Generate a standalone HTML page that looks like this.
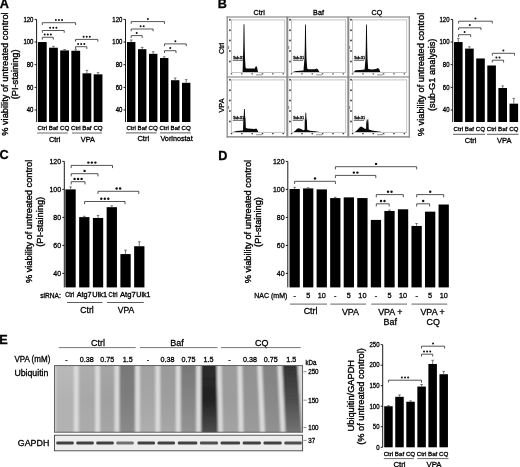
<!DOCTYPE html>
<html><head><meta charset="utf-8"><style>
html,body{margin:0;padding:0;background:#fff;}
svg{display:block;will-change:transform;}
text{font-family:"Liberation Sans", sans-serif;stroke:#000;stroke-width:0.3px;}
.hv{stroke:#000;stroke-width:0.36px;}
</style></head><body>
<svg width="520" height="467" viewBox="0 0 520 467">
<defs><linearGradient id="lg0" x1="0" y1="0" x2="0" y2="1"><stop offset="0" stop-color="#bababa"/><stop offset="0.5" stop-color="#b2b2b2"/><stop offset="1" stop-color="#b2b2b2"/></linearGradient>
<linearGradient id="lg1" x1="0" y1="0" x2="0" y2="1"><stop offset="0" stop-color="#aeaeae"/><stop offset="0.5" stop-color="#a8a8a8"/><stop offset="1" stop-color="#acacac"/></linearGradient>
<linearGradient id="lg2" x1="0" y1="0" x2="0" y2="1"><stop offset="0" stop-color="#a6a6a6"/><stop offset="0.5" stop-color="#a0a0a0"/><stop offset="1" stop-color="#a6a6a6"/></linearGradient>
<linearGradient id="lg3" x1="0" y1="0" x2="0" y2="1"><stop offset="0" stop-color="#787878"/><stop offset="0.5" stop-color="#7e7e7e"/><stop offset="1" stop-color="#8a8a8a"/></linearGradient>
<linearGradient id="lg4" x1="0" y1="0" x2="0" y2="1"><stop offset="0" stop-color="#a2a2a2"/><stop offset="0.5" stop-color="#a6a6a6"/><stop offset="1" stop-color="#aeaeae"/></linearGradient>
<linearGradient id="lg5" x1="0" y1="0" x2="0" y2="1"><stop offset="0" stop-color="#9a9a9a"/><stop offset="0.5" stop-color="#9e9e9e"/><stop offset="1" stop-color="#a8a8a8"/></linearGradient>
<linearGradient id="lg6" x1="0" y1="0" x2="0" y2="1"><stop offset="0" stop-color="#767676"/><stop offset="0.5" stop-color="#858585"/><stop offset="1" stop-color="#959595"/></linearGradient>
<linearGradient id="lg7" x1="0" y1="0" x2="0" y2="1"><stop offset="0" stop-color="#2e2e2e"/><stop offset="0.5" stop-color="#202020"/><stop offset="1" stop-color="#505050"/></linearGradient>
<linearGradient id="lg8" x1="0" y1="0" x2="0" y2="1"><stop offset="0" stop-color="#9c9c9c"/><stop offset="0.5" stop-color="#9c9c9c"/><stop offset="1" stop-color="#a4a4a4"/></linearGradient>
<linearGradient id="lg9" x1="0" y1="0" x2="0" y2="1"><stop offset="0" stop-color="#929292"/><stop offset="0.5" stop-color="#949494"/><stop offset="1" stop-color="#9c9c9c"/></linearGradient>
<linearGradient id="lg10" x1="0" y1="0" x2="0" y2="1"><stop offset="0" stop-color="#828282"/><stop offset="0.5" stop-color="#888888"/><stop offset="1" stop-color="#929292"/></linearGradient>
<linearGradient id="lg11" x1="0" y1="0" x2="0" y2="1"><stop offset="0" stop-color="#303030"/><stop offset="0.5" stop-color="#4c4c4c"/><stop offset="1" stop-color="#767676"/></linearGradient>
<clipPath id="blotclip"><rect x="54.50" y="365.60" width="248.10" height="66.60"/></clipPath>
<filter id="bl" x="-5%" y="-5%" width="110%" height="110%"><feGaussianBlur stdDeviation="0.9"/></filter></defs>
<rect width="520" height="467" fill="#fff"/>
<text x="4.30" y="8.45" font-size="12.70" text-anchor="middle" font-weight="bold" fill="#000" transform="translate(4.30 8.45) scale(1.000 1) translate(-4.30 -8.45)">A</text>
<text transform="translate(7.50 74.10) rotate(-90)" x="0" y="0" font-size="9.25" text-anchor="middle" class="hv">% viability of untreated control</text>
<text transform="translate(18.20 74.40) rotate(-90)" x="0" y="0" font-size="9.25" text-anchor="middle" class="hv">(PI-staining)</text>
<line x1="36.60" y1="19.40" x2="36.60" y2="122.00" stroke="#000" stroke-width="0.90"/>
<line x1="34.60" y1="110.00" x2="36.60" y2="110.00" stroke="#000" stroke-width="0.90"/>
<text x="33.40" y="112.29" font-size="6.38" text-anchor="end" font-weight="normal" fill="#000" transform="translate(33.40 112.29) scale(0.940 1) translate(-33.40 -112.29)">40</text>
<line x1="34.60" y1="87.35" x2="36.60" y2="87.35" stroke="#000" stroke-width="0.90"/>
<text x="33.40" y="89.64" font-size="6.38" text-anchor="end" font-weight="normal" fill="#000" transform="translate(33.40 89.64) scale(0.940 1) translate(-33.40 -89.64)">60</text>
<line x1="34.60" y1="64.70" x2="36.60" y2="64.70" stroke="#000" stroke-width="0.90"/>
<text x="33.40" y="66.99" font-size="6.38" text-anchor="end" font-weight="normal" fill="#000" transform="translate(33.40 66.99) scale(0.940 1) translate(-33.40 -66.99)">80</text>
<line x1="34.60" y1="42.05" x2="36.60" y2="42.05" stroke="#000" stroke-width="0.90"/>
<text x="33.40" y="44.34" font-size="6.38" text-anchor="end" font-weight="normal" fill="#000" transform="translate(33.40 44.34) scale(0.940 1) translate(-33.40 -44.34)">100</text>
<line x1="34.60" y1="19.40" x2="36.60" y2="19.40" stroke="#000" stroke-width="0.90"/>
<text x="33.40" y="21.69" font-size="6.38" text-anchor="end" font-weight="normal" fill="#000" transform="translate(33.40 21.69) scale(0.940 1) translate(-33.40 -21.69)">120</text>
<rect x="37.90" y="42.05" width="8.80" height="79.95" fill="#000"/>
<rect x="49.05" y="47.71" width="8.80" height="74.29" fill="#000"/>
<line x1="53.45" y1="46.35" x2="53.45" y2="47.71" stroke="#444" stroke-width="0.70"/>
<line x1="52.15" y1="46.35" x2="54.75" y2="46.35" stroke="#444" stroke-width="0.70"/>
<rect x="60.20" y="50.43" width="8.80" height="71.57" fill="#000"/>
<line x1="64.60" y1="49.52" x2="64.60" y2="50.43" stroke="#444" stroke-width="0.70"/>
<line x1="63.30" y1="49.52" x2="65.90" y2="49.52" stroke="#444" stroke-width="0.70"/>
<rect x="71.35" y="50.77" width="8.80" height="71.23" fill="#000"/>
<line x1="75.75" y1="49.75" x2="75.75" y2="50.77" stroke="#444" stroke-width="0.70"/>
<line x1="74.45" y1="49.75" x2="77.05" y2="49.75" stroke="#444" stroke-width="0.70"/>
<rect x="82.50" y="73.31" width="8.80" height="48.70" fill="#000"/>
<line x1="86.90" y1="70.36" x2="86.90" y2="73.31" stroke="#444" stroke-width="0.70"/>
<line x1="85.60" y1="70.36" x2="88.20" y2="70.36" stroke="#444" stroke-width="0.70"/>
<rect x="93.65" y="74.33" width="8.80" height="47.68" fill="#000"/>
<line x1="98.05" y1="72.63" x2="98.05" y2="74.33" stroke="#444" stroke-width="0.70"/>
<line x1="96.75" y1="72.63" x2="99.35" y2="72.63" stroke="#444" stroke-width="0.70"/>
<text x="42.30" y="130.42" font-size="6.20" text-anchor="middle" font-weight="normal" fill="#000" transform="translate(42.30 130.42) scale(1.000 1) translate(-42.30 -130.42)">Ctrl</text>
<text x="53.45" y="130.42" font-size="6.20" text-anchor="middle" font-weight="normal" fill="#000" transform="translate(53.45 130.42) scale(1.000 1) translate(-53.45 -130.42)">Baf</text>
<text x="64.60" y="130.42" font-size="6.20" text-anchor="middle" font-weight="normal" fill="#000" transform="translate(64.60 130.42) scale(1.000 1) translate(-64.60 -130.42)">CQ</text>
<text x="75.75" y="130.42" font-size="6.20" text-anchor="middle" font-weight="normal" fill="#000" transform="translate(75.75 130.42) scale(1.000 1) translate(-75.75 -130.42)">Ctrl</text>
<text x="86.90" y="130.42" font-size="6.20" text-anchor="middle" font-weight="normal" fill="#000" transform="translate(86.90 130.42) scale(1.000 1) translate(-86.90 -130.42)">Baf</text>
<text x="98.05" y="130.42" font-size="6.20" text-anchor="middle" font-weight="normal" fill="#000" transform="translate(98.05 130.42) scale(1.000 1) translate(-98.05 -130.42)">CQ</text>
<line x1="37.20" y1="133.00" x2="67.80" y2="133.00" stroke="#444" stroke-width="0.80"/>
<line x1="72.00" y1="133.00" x2="102.00" y2="133.00" stroke="#444" stroke-width="0.80"/>
<text x="54.60" y="141.51" font-size="7.30" text-anchor="middle" font-weight="normal" fill="#000" transform="translate(54.60 141.51) scale(1.000 1) translate(-54.60 -141.51)">Ctrl</text>
<text x="87.90" y="141.51" font-size="7.30" text-anchor="middle" font-weight="normal" fill="#000" transform="translate(87.90 141.51) scale(1.000 1) translate(-87.90 -141.51)">VPA</text>
<path d="M42.30 39.60 V37.30 H53.30 V39.60" fill="none" stroke="#2a2a2a" stroke-width="0.80"/>
<circle cx="44.70" cy="34.60" r="1.00" fill="#111"/>
<circle cx="47.80" cy="34.60" r="1.00" fill="#111"/>
<circle cx="50.90" cy="34.60" r="1.00" fill="#111"/>
<path d="M42.30 32.80 V30.50 H64.20 V32.80" fill="none" stroke="#2a2a2a" stroke-width="0.80"/>
<circle cx="50.15" cy="27.80" r="1.00" fill="#111"/>
<circle cx="53.25" cy="27.80" r="1.00" fill="#111"/>
<circle cx="56.35" cy="27.80" r="1.00" fill="#111"/>
<path d="M42.30 25.00 V22.70 H75.60 V25.00" fill="none" stroke="#2a2a2a" stroke-width="0.80"/>
<circle cx="55.85" cy="20.00" r="1.00" fill="#111"/>
<circle cx="58.95" cy="20.00" r="1.00" fill="#111"/>
<circle cx="62.05" cy="20.00" r="1.00" fill="#111"/>
<path d="M75.60 49.00 V46.70 H86.80 V49.00" fill="none" stroke="#2a2a2a" stroke-width="0.80"/>
<circle cx="78.10" cy="44.00" r="1.00" fill="#111"/>
<circle cx="81.20" cy="44.00" r="1.00" fill="#111"/>
<circle cx="84.30" cy="44.00" r="1.00" fill="#111"/>
<path d="M75.60 41.70 V39.40 H97.80 V41.70" fill="none" stroke="#2a2a2a" stroke-width="0.80"/>
<circle cx="83.60" cy="36.70" r="1.00" fill="#111"/>
<circle cx="86.70" cy="36.70" r="1.00" fill="#111"/>
<circle cx="89.80" cy="36.70" r="1.00" fill="#111"/>
<line x1="125.50" y1="19.40" x2="125.50" y2="122.00" stroke="#000" stroke-width="0.90"/>
<line x1="123.50" y1="110.00" x2="125.50" y2="110.00" stroke="#000" stroke-width="0.90"/>
<text x="122.30" y="112.29" font-size="6.38" text-anchor="end" font-weight="normal" fill="#000" transform="translate(122.30 112.29) scale(0.940 1) translate(-122.30 -112.29)">40</text>
<line x1="123.50" y1="87.35" x2="125.50" y2="87.35" stroke="#000" stroke-width="0.90"/>
<text x="122.30" y="89.64" font-size="6.38" text-anchor="end" font-weight="normal" fill="#000" transform="translate(122.30 89.64) scale(0.940 1) translate(-122.30 -89.64)">60</text>
<line x1="123.50" y1="64.70" x2="125.50" y2="64.70" stroke="#000" stroke-width="0.90"/>
<text x="122.30" y="66.99" font-size="6.38" text-anchor="end" font-weight="normal" fill="#000" transform="translate(122.30 66.99) scale(0.940 1) translate(-122.30 -66.99)">80</text>
<line x1="123.50" y1="42.05" x2="125.50" y2="42.05" stroke="#000" stroke-width="0.90"/>
<text x="122.30" y="44.34" font-size="6.38" text-anchor="end" font-weight="normal" fill="#000" transform="translate(122.30 44.34) scale(0.940 1) translate(-122.30 -44.34)">100</text>
<line x1="123.50" y1="19.40" x2="125.50" y2="19.40" stroke="#000" stroke-width="0.90"/>
<text x="122.30" y="21.69" font-size="6.38" text-anchor="end" font-weight="normal" fill="#000" transform="translate(122.30 21.69) scale(0.940 1) translate(-122.30 -21.69)">120</text>
<rect x="127.00" y="42.05" width="8.40" height="79.95" fill="#000"/>
<line x1="131.20" y1="40.01" x2="131.20" y2="42.05" stroke="#444" stroke-width="0.70"/>
<line x1="129.90" y1="40.01" x2="132.50" y2="40.01" stroke="#444" stroke-width="0.70"/>
<rect x="138.00" y="49.18" width="8.40" height="72.82" fill="#000"/>
<line x1="142.20" y1="47.37" x2="142.20" y2="49.18" stroke="#444" stroke-width="0.70"/>
<line x1="140.90" y1="47.37" x2="143.50" y2="47.37" stroke="#444" stroke-width="0.70"/>
<rect x="149.00" y="53.83" width="8.40" height="68.18" fill="#000"/>
<line x1="153.20" y1="51.79" x2="153.20" y2="53.83" stroke="#444" stroke-width="0.70"/>
<line x1="151.90" y1="51.79" x2="154.50" y2="51.79" stroke="#444" stroke-width="0.70"/>
<rect x="160.00" y="58.02" width="8.40" height="63.99" fill="#000"/>
<line x1="164.20" y1="56.77" x2="164.20" y2="58.02" stroke="#444" stroke-width="0.70"/>
<line x1="162.90" y1="56.77" x2="165.50" y2="56.77" stroke="#444" stroke-width="0.70"/>
<rect x="171.00" y="80.22" width="8.40" height="41.79" fill="#000"/>
<line x1="175.20" y1="78.06" x2="175.20" y2="80.22" stroke="#444" stroke-width="0.70"/>
<line x1="173.90" y1="78.06" x2="176.50" y2="78.06" stroke="#444" stroke-width="0.70"/>
<rect x="182.00" y="82.82" width="8.40" height="39.18" fill="#000"/>
<line x1="186.20" y1="79.65" x2="186.20" y2="82.82" stroke="#444" stroke-width="0.70"/>
<line x1="184.90" y1="79.65" x2="187.50" y2="79.65" stroke="#444" stroke-width="0.70"/>
<text x="131.20" y="130.22" font-size="6.20" text-anchor="middle" font-weight="normal" fill="#000" transform="translate(131.20 130.22) scale(1.000 1) translate(-131.20 -130.22)">Ctrl</text>
<text x="142.20" y="130.22" font-size="6.20" text-anchor="middle" font-weight="normal" fill="#000" transform="translate(142.20 130.22) scale(1.000 1) translate(-142.20 -130.22)">Baf</text>
<text x="153.20" y="130.22" font-size="6.20" text-anchor="middle" font-weight="normal" fill="#000" transform="translate(153.20 130.22) scale(1.000 1) translate(-153.20 -130.22)">CQ</text>
<text x="164.20" y="130.22" font-size="6.20" text-anchor="middle" font-weight="normal" fill="#000" transform="translate(164.20 130.22) scale(1.000 1) translate(-164.20 -130.22)">Ctrl</text>
<text x="175.20" y="130.22" font-size="6.20" text-anchor="middle" font-weight="normal" fill="#000" transform="translate(175.20 130.22) scale(1.000 1) translate(-175.20 -130.22)">Baf</text>
<text x="186.20" y="130.22" font-size="6.20" text-anchor="middle" font-weight="normal" fill="#000" transform="translate(186.20 130.22) scale(1.000 1) translate(-186.20 -130.22)">CQ</text>
<line x1="126.00" y1="132.90" x2="156.60" y2="132.90" stroke="#333" stroke-width="0.80"/>
<line x1="160.00" y1="132.90" x2="190.80" y2="132.90" stroke="#333" stroke-width="0.80"/>
<text x="143.30" y="141.22" font-size="7.60" text-anchor="middle" font-weight="normal" fill="#000" transform="translate(143.30 141.22) scale(1.000 1) translate(-143.30 -141.22)">Ctrl</text>
<text x="160.44" y="141.22" font-size="7.60" font-weight="normal" textLength="32.21" lengthAdjust="spacingAndGlyphs">Vorinostat</text>
<path d="M131.20 37.90 V35.60 H142.20 V37.90" fill="none" stroke="#2a2a2a" stroke-width="0.80"/>
<circle cx="136.70" cy="32.90" r="1.00" fill="#111"/>
<path d="M131.20 31.30 V29.00 H153.10 V31.30" fill="none" stroke="#2a2a2a" stroke-width="0.80"/>
<circle cx="140.60" cy="26.30" r="1.00" fill="#111"/>
<circle cx="143.70" cy="26.30" r="1.00" fill="#111"/>
<path d="M131.20 23.90 V21.60 H164.50 V23.90" fill="none" stroke="#2a2a2a" stroke-width="0.80"/>
<circle cx="147.85" cy="18.90" r="1.00" fill="#111"/>
<path d="M164.50 53.00 V50.70 H176.00 V53.00" fill="none" stroke="#2a2a2a" stroke-width="0.80"/>
<circle cx="170.25" cy="48.00" r="1.00" fill="#111"/>
<path d="M164.50 46.20 V43.90 H186.30 V46.20" fill="none" stroke="#2a2a2a" stroke-width="0.80"/>
<circle cx="175.40" cy="41.20" r="1.00" fill="#111"/>
<text x="222.30" y="8.45" font-size="12.70" text-anchor="middle" font-weight="bold" fill="#000" transform="translate(222.30 8.45) scale(1.000 1) translate(-222.30 -8.45)">B</text>
<text x="259.20" y="14.74" font-size="7.66" text-anchor="middle" font-weight="normal" fill="#000" transform="translate(259.20 14.74) scale(0.940 1) translate(-259.20 -14.74)">Ctrl</text>
<text x="318.50" y="14.74" font-size="7.66" text-anchor="middle" font-weight="normal" fill="#000" transform="translate(318.50 14.74) scale(0.940 1) translate(-318.50 -14.74)">Baf</text>
<text x="377.00" y="14.74" font-size="7.66" text-anchor="middle" font-weight="normal" fill="#000" transform="translate(377.00 14.74) scale(0.940 1) translate(-377.00 -14.74)">CQ</text>
<text transform="translate(224.38 48.40) rotate(-90)" x="0" y="0" font-size="7.20" text-anchor="middle" font-weight="normal" fill="#000">Ctrl</text>
<text transform="translate(224.38 105.50) rotate(-90)" x="0" y="0" font-size="7.20" text-anchor="middle" font-weight="normal" fill="#000">VPA</text>
<line x1="226.60" y1="17.00" x2="409.90" y2="17.00" stroke="#777" stroke-width="1.10"/>
<line x1="226.60" y1="77.00" x2="409.90" y2="77.00" stroke="#777" stroke-width="1.10"/>
<line x1="226.60" y1="136.90" x2="409.90" y2="136.90" stroke="#777" stroke-width="1.10"/>
<line x1="227.20" y1="16.50" x2="227.20" y2="137.40" stroke="#8c8c8c" stroke-width="1.30"/>
<line x1="287.30" y1="16.50" x2="287.30" y2="137.40" stroke="#8c8c8c" stroke-width="2.00"/>
<line x1="348.30" y1="16.50" x2="348.30" y2="137.40" stroke="#8c8c8c" stroke-width="2.00"/>
<line x1="409.30" y1="16.50" x2="409.30" y2="137.40" stroke="#8c8c8c" stroke-width="1.30"/>
<rect x="231.40" y="19.90" width="53.30" height="52.60" fill="none" stroke="#bdbdbd" stroke-width="0.9"/>
<ellipse cx="229.90" cy="19.80" rx="0.8" ry="1.0" fill="#222"/>
<ellipse cx="229.90" cy="30.20" rx="0.8" ry="1.0" fill="#222"/>
<ellipse cx="229.90" cy="40.60" rx="0.8" ry="1.0" fill="#222"/>
<ellipse cx="229.90" cy="51.00" rx="0.8" ry="1.0" fill="#222"/>
<ellipse cx="229.90" cy="61.40" rx="0.8" ry="1.0" fill="#222"/>
<ellipse cx="231.50" cy="73.80" rx="0.9" ry="0.6" fill="#333"/>
<ellipse cx="241.85" cy="73.80" rx="0.9" ry="0.6" fill="#333"/>
<ellipse cx="252.20" cy="73.80" rx="0.9" ry="0.6" fill="#333"/>
<ellipse cx="262.55" cy="73.80" rx="0.9" ry="0.6" fill="#333"/>
<ellipse cx="272.90" cy="73.80" rx="0.9" ry="0.6" fill="#333"/>
<ellipse cx="283.25" cy="73.80" rx="0.9" ry="0.6" fill="#333"/>
<rect x="256.00" y="74.40" width="6.00" height="0.90" fill="#888"/>
<rect x="228.10" y="46.00" width="1.00" height="3.00" fill="#888"/>
<path d="M232.00 72.10 L242.60 71.90 L243.00 57.80 L243.30 46.00 L243.60 24.20 L244.40 24.20 L244.70 46.00 L245.00 57.80 L245.60 67.60 L246.40 68.60 L254.80 68.60 L255.60 66.40 L256.60 66.20 L257.20 68.00 L258.00 72.10 Z" fill="#0a0a0a"/>
<line x1="232.70" y1="60.30" x2="243.00" y2="60.30" stroke="#333" stroke-width="0.80"/>
<text x="233.20" y="58.60" font-size="3.1" fill="#333" stroke="none">Sub-G1</text>
<rect x="291.50" y="19.90" width="54.20" height="52.60" fill="none" stroke="#bdbdbd" stroke-width="0.9"/>
<ellipse cx="290.00" cy="19.80" rx="0.8" ry="1.0" fill="#222"/>
<ellipse cx="290.00" cy="30.20" rx="0.8" ry="1.0" fill="#222"/>
<ellipse cx="290.00" cy="40.60" rx="0.8" ry="1.0" fill="#222"/>
<ellipse cx="290.00" cy="51.00" rx="0.8" ry="1.0" fill="#222"/>
<ellipse cx="290.00" cy="61.40" rx="0.8" ry="1.0" fill="#222"/>
<ellipse cx="291.60" cy="73.80" rx="0.9" ry="0.6" fill="#333"/>
<ellipse cx="301.95" cy="73.80" rx="0.9" ry="0.6" fill="#333"/>
<ellipse cx="312.30" cy="73.80" rx="0.9" ry="0.6" fill="#333"/>
<ellipse cx="322.65" cy="73.80" rx="0.9" ry="0.6" fill="#333"/>
<ellipse cx="333.00" cy="73.80" rx="0.9" ry="0.6" fill="#333"/>
<ellipse cx="343.35" cy="73.80" rx="0.9" ry="0.6" fill="#333"/>
<rect x="316.10" y="74.40" width="6.00" height="0.90" fill="#888"/>
<rect x="288.20" y="46.00" width="1.00" height="3.00" fill="#888"/>
<path d="M292.80 72.10 L296.00 70.90 L303.50 70.60 L304.50 58.00 L304.80 46.30 L305.10 24.60 L305.90 24.60 L306.20 46.30 L306.50 58.00 L307.20 68.40 L308.50 69.20 L315.00 69.30 L316.50 68.60 L317.80 69.20 L319.40 72.10 Z" fill="#0a0a0a"/>
<line x1="292.80" y1="60.30" x2="303.10" y2="60.30" stroke="#333" stroke-width="0.80"/>
<text x="293.30" y="58.60" font-size="3.1" fill="#333" stroke="none">Sub-G1</text>
<rect x="352.50" y="19.90" width="54.20" height="52.60" fill="none" stroke="#bdbdbd" stroke-width="0.9"/>
<ellipse cx="351.00" cy="19.80" rx="0.8" ry="1.0" fill="#222"/>
<ellipse cx="351.00" cy="30.20" rx="0.8" ry="1.0" fill="#222"/>
<ellipse cx="351.00" cy="40.60" rx="0.8" ry="1.0" fill="#222"/>
<ellipse cx="351.00" cy="51.00" rx="0.8" ry="1.0" fill="#222"/>
<ellipse cx="351.00" cy="61.40" rx="0.8" ry="1.0" fill="#222"/>
<ellipse cx="352.60" cy="73.80" rx="0.9" ry="0.6" fill="#333"/>
<ellipse cx="362.95" cy="73.80" rx="0.9" ry="0.6" fill="#333"/>
<ellipse cx="373.30" cy="73.80" rx="0.9" ry="0.6" fill="#333"/>
<ellipse cx="383.65" cy="73.80" rx="0.9" ry="0.6" fill="#333"/>
<ellipse cx="394.00" cy="73.80" rx="0.9" ry="0.6" fill="#333"/>
<ellipse cx="404.35" cy="73.80" rx="0.9" ry="0.6" fill="#333"/>
<rect x="377.10" y="74.40" width="6.00" height="0.90" fill="#888"/>
<rect x="349.20" y="46.00" width="1.00" height="3.00" fill="#888"/>
<path d="M353.80 72.10 L355.50 70.20 L360.00 69.90 L364.60 69.50 L365.50 58.40 L365.80 46.50 L366.10 24.60 L366.90 24.60 L367.20 46.50 L367.50 58.40 L368.20 69.00 L372.00 69.40 L376.00 69.00 L377.80 68.00 L379.00 68.80 L380.40 72.10 Z" fill="#0a0a0a"/>
<line x1="353.80" y1="60.30" x2="364.10" y2="60.30" stroke="#333" stroke-width="0.80"/>
<text x="354.30" y="58.60" font-size="3.1" fill="#333" stroke="none">Sub-G1</text>
<rect x="231.40" y="79.90" width="53.30" height="52.50" fill="none" stroke="#bdbdbd" stroke-width="0.9"/>
<ellipse cx="229.90" cy="79.80" rx="0.8" ry="1.0" fill="#222"/>
<ellipse cx="229.90" cy="90.20" rx="0.8" ry="1.0" fill="#222"/>
<ellipse cx="229.90" cy="100.60" rx="0.8" ry="1.0" fill="#222"/>
<ellipse cx="229.90" cy="111.00" rx="0.8" ry="1.0" fill="#222"/>
<ellipse cx="229.90" cy="121.40" rx="0.8" ry="1.0" fill="#222"/>
<ellipse cx="231.50" cy="133.70" rx="0.9" ry="0.6" fill="#333"/>
<ellipse cx="241.85" cy="133.70" rx="0.9" ry="0.6" fill="#333"/>
<ellipse cx="252.20" cy="133.70" rx="0.9" ry="0.6" fill="#333"/>
<ellipse cx="262.55" cy="133.70" rx="0.9" ry="0.6" fill="#333"/>
<ellipse cx="272.90" cy="133.70" rx="0.9" ry="0.6" fill="#333"/>
<ellipse cx="283.25" cy="133.70" rx="0.9" ry="0.6" fill="#333"/>
<rect x="256.00" y="134.30" width="6.00" height="0.90" fill="#888"/>
<rect x="228.10" y="106.00" width="1.00" height="3.00" fill="#888"/>
<path d="M233.20 132.00 L236.50 131.00 L243.00 130.60 L243.40 117.00 L243.70 118.00 L244.00 109.00 L244.80 109.00 L245.10 118.00 L245.40 117.00 L245.90 128.00 L248.00 128.60 L254.50 129.00 L256.20 128.60 L257.20 129.40 L258.30 132.00 Z" fill="#0a0a0a"/>
<line x1="232.70" y1="120.30" x2="243.00" y2="120.30" stroke="#333" stroke-width="0.80"/>
<text x="233.20" y="118.60" font-size="3.1" fill="#333" stroke="none">Sub-G1</text>
<rect x="291.50" y="79.90" width="54.20" height="52.50" fill="none" stroke="#bdbdbd" stroke-width="0.9"/>
<ellipse cx="290.00" cy="79.80" rx="0.8" ry="1.0" fill="#222"/>
<ellipse cx="290.00" cy="90.20" rx="0.8" ry="1.0" fill="#222"/>
<ellipse cx="290.00" cy="100.60" rx="0.8" ry="1.0" fill="#222"/>
<ellipse cx="290.00" cy="111.00" rx="0.8" ry="1.0" fill="#222"/>
<ellipse cx="290.00" cy="121.40" rx="0.8" ry="1.0" fill="#222"/>
<ellipse cx="291.60" cy="133.70" rx="0.9" ry="0.6" fill="#333"/>
<ellipse cx="301.95" cy="133.70" rx="0.9" ry="0.6" fill="#333"/>
<ellipse cx="312.30" cy="133.70" rx="0.9" ry="0.6" fill="#333"/>
<ellipse cx="322.65" cy="133.70" rx="0.9" ry="0.6" fill="#333"/>
<ellipse cx="333.00" cy="133.70" rx="0.9" ry="0.6" fill="#333"/>
<ellipse cx="343.35" cy="133.70" rx="0.9" ry="0.6" fill="#333"/>
<rect x="316.10" y="134.30" width="6.00" height="0.90" fill="#888"/>
<rect x="288.20" y="106.00" width="1.00" height="3.00" fill="#888"/>
<path d="M293.60 132.00 L295.50 130.60 L297.00 128.80 L298.60 128.20 L300.50 128.80 L303.50 130.20 L304.60 129.80 L304.80 118.00 L305.10 120.40 L305.40 112.80 L306.20 112.80 L306.50 120.40 L306.80 118.00 L307.20 129.80 L310.00 130.80 L315.00 131.30 L319.50 132.00 Z" fill="#0a0a0a"/>
<line x1="292.80" y1="120.30" x2="303.10" y2="120.30" stroke="#333" stroke-width="0.80"/>
<text x="293.30" y="118.60" font-size="3.1" fill="#333" stroke="none">Sub-G1</text>
<rect x="352.50" y="79.90" width="54.20" height="52.50" fill="none" stroke="#bdbdbd" stroke-width="0.9"/>
<ellipse cx="351.00" cy="79.80" rx="0.8" ry="1.0" fill="#222"/>
<ellipse cx="351.00" cy="90.20" rx="0.8" ry="1.0" fill="#222"/>
<ellipse cx="351.00" cy="100.60" rx="0.8" ry="1.0" fill="#222"/>
<ellipse cx="351.00" cy="111.00" rx="0.8" ry="1.0" fill="#222"/>
<ellipse cx="351.00" cy="121.40" rx="0.8" ry="1.0" fill="#222"/>
<ellipse cx="352.60" cy="133.70" rx="0.9" ry="0.6" fill="#333"/>
<ellipse cx="362.95" cy="133.70" rx="0.9" ry="0.6" fill="#333"/>
<ellipse cx="373.30" cy="133.70" rx="0.9" ry="0.6" fill="#333"/>
<ellipse cx="383.65" cy="133.70" rx="0.9" ry="0.6" fill="#333"/>
<ellipse cx="394.00" cy="133.70" rx="0.9" ry="0.6" fill="#333"/>
<ellipse cx="404.35" cy="133.70" rx="0.9" ry="0.6" fill="#333"/>
<rect x="377.10" y="134.30" width="6.00" height="0.90" fill="#888"/>
<rect x="349.20" y="106.00" width="1.00" height="3.00" fill="#888"/>
<path d="M355.00 132.00 L357.50 129.80 L359.50 127.40 L361.10 126.60 L363.00 127.60 L365.20 129.00 L366.10 128.60 L366.30 117.60 L366.60 123.50 L366.90 119.40 L367.70 119.40 L368.00 123.50 L368.30 117.60 L368.80 129.60 L372.00 130.60 L377.00 131.20 L382.00 132.00 Z" fill="#0a0a0a"/>
<line x1="353.80" y1="120.30" x2="364.10" y2="120.30" stroke="#333" stroke-width="0.80"/>
<text x="354.30" y="118.60" font-size="3.1" fill="#333" stroke="none">Sub-G1</text>
<text transform="translate(423.60 74.50) rotate(-90)" x="0" y="0" font-size="9.25" text-anchor="middle" class="hv">% viability of untreated control</text>
<text transform="translate(435.00 74.80) rotate(-90)" x="0" y="0" font-size="9.25" text-anchor="middle" class="hv">(sub-G1 analysis)</text>
<line x1="452.70" y1="19.40" x2="452.70" y2="122.00" stroke="#000" stroke-width="0.90"/>
<line x1="450.70" y1="110.00" x2="452.70" y2="110.00" stroke="#000" stroke-width="0.90"/>
<text x="449.50" y="112.29" font-size="6.38" text-anchor="end" font-weight="normal" fill="#000" transform="translate(449.50 112.29) scale(0.940 1) translate(-449.50 -112.29)">40</text>
<line x1="450.70" y1="87.35" x2="452.70" y2="87.35" stroke="#000" stroke-width="0.90"/>
<text x="449.50" y="89.64" font-size="6.38" text-anchor="end" font-weight="normal" fill="#000" transform="translate(449.50 89.64) scale(0.940 1) translate(-449.50 -89.64)">60</text>
<line x1="450.70" y1="64.70" x2="452.70" y2="64.70" stroke="#000" stroke-width="0.90"/>
<text x="449.50" y="66.99" font-size="6.38" text-anchor="end" font-weight="normal" fill="#000" transform="translate(449.50 66.99) scale(0.940 1) translate(-449.50 -66.99)">80</text>
<line x1="450.70" y1="42.05" x2="452.70" y2="42.05" stroke="#000" stroke-width="0.90"/>
<text x="449.50" y="44.34" font-size="6.38" text-anchor="end" font-weight="normal" fill="#000" transform="translate(449.50 44.34) scale(0.940 1) translate(-449.50 -44.34)">100</text>
<line x1="450.70" y1="19.40" x2="452.70" y2="19.40" stroke="#000" stroke-width="0.90"/>
<text x="449.50" y="21.69" font-size="6.38" text-anchor="end" font-weight="normal" fill="#000" transform="translate(449.50 21.69) scale(0.940 1) translate(-449.50 -21.69)">120</text>
<rect x="454.00" y="42.05" width="8.60" height="79.95" fill="#000"/>
<line x1="458.30" y1="38.43" x2="458.30" y2="42.05" stroke="#444" stroke-width="0.70"/>
<line x1="457.00" y1="38.43" x2="459.60" y2="38.43" stroke="#444" stroke-width="0.70"/>
<rect x="465.10" y="48.62" width="8.60" height="73.39" fill="#000"/>
<line x1="469.40" y1="46.81" x2="469.40" y2="48.62" stroke="#444" stroke-width="0.70"/>
<line x1="468.10" y1="46.81" x2="470.70" y2="46.81" stroke="#444" stroke-width="0.70"/>
<rect x="476.20" y="58.47" width="8.60" height="63.53" fill="#000"/>
<rect x="487.30" y="65.49" width="8.60" height="56.51" fill="#000"/>
<rect x="498.40" y="88.03" width="8.60" height="33.97" fill="#000"/>
<line x1="502.70" y1="85.88" x2="502.70" y2="88.03" stroke="#444" stroke-width="0.70"/>
<line x1="501.40" y1="85.88" x2="504.00" y2="85.88" stroke="#444" stroke-width="0.70"/>
<rect x="509.50" y="103.66" width="8.60" height="18.35" fill="#000"/>
<line x1="513.80" y1="98.34" x2="513.80" y2="103.66" stroke="#444" stroke-width="0.70"/>
<line x1="512.50" y1="98.34" x2="515.10" y2="98.34" stroke="#444" stroke-width="0.70"/>
<text x="458.30" y="131.12" font-size="6.20" text-anchor="middle" font-weight="normal" fill="#000" transform="translate(458.30 131.12) scale(1.000 1) translate(-458.30 -131.12)">Ctrl</text>
<text x="469.40" y="131.12" font-size="6.20" text-anchor="middle" font-weight="normal" fill="#000" transform="translate(469.40 131.12) scale(1.000 1) translate(-469.40 -131.12)">Baf</text>
<text x="480.50" y="131.12" font-size="6.20" text-anchor="middle" font-weight="normal" fill="#000" transform="translate(480.50 131.12) scale(1.000 1) translate(-480.50 -131.12)">CQ</text>
<text x="491.60" y="131.12" font-size="6.20" text-anchor="middle" font-weight="normal" fill="#000" transform="translate(491.60 131.12) scale(1.000 1) translate(-491.60 -131.12)">Ctrl</text>
<text x="502.70" y="131.12" font-size="6.20" text-anchor="middle" font-weight="normal" fill="#000" transform="translate(502.70 131.12) scale(1.000 1) translate(-502.70 -131.12)">Baf</text>
<text x="513.80" y="131.12" font-size="6.20" text-anchor="middle" font-weight="normal" fill="#000" transform="translate(513.80 131.12) scale(1.000 1) translate(-513.80 -131.12)">CQ</text>
<line x1="453.00" y1="134.30" x2="485.00" y2="134.30" stroke="#333" stroke-width="0.80"/>
<line x1="487.00" y1="134.30" x2="518.60" y2="134.30" stroke="#333" stroke-width="0.80"/>
<text x="470.60" y="142.99" font-size="7.50" text-anchor="middle" font-weight="normal" fill="#000" transform="translate(470.60 142.99) scale(1.000 1) translate(-470.60 -142.99)">Ctrl</text>
<text x="504.20" y="142.99" font-size="7.50" text-anchor="middle" font-weight="normal" fill="#000" transform="translate(504.20 142.99) scale(1.000 1) translate(-504.20 -142.99)">VPA</text>
<path d="M458.60 37.00 V34.70 H470.70 V37.00" fill="none" stroke="#2a2a2a" stroke-width="0.80"/>
<circle cx="464.65" cy="32.00" r="1.00" fill="#111"/>
<path d="M458.60 30.10 V27.80 H481.00 V30.10" fill="none" stroke="#2a2a2a" stroke-width="0.80"/>
<circle cx="469.80" cy="25.10" r="1.00" fill="#111"/>
<path d="M458.60 23.50 V21.20 H492.30 V23.50" fill="none" stroke="#2a2a2a" stroke-width="0.80"/>
<circle cx="475.45" cy="18.50" r="1.00" fill="#111"/>
<path d="M492.30 62.50 V60.20 H503.60 V62.50" fill="none" stroke="#2a2a2a" stroke-width="0.80"/>
<circle cx="496.40" cy="57.50" r="1.00" fill="#111"/>
<circle cx="499.50" cy="57.50" r="1.00" fill="#111"/>
<path d="M492.30 55.60 V53.30 H514.50 V55.60" fill="none" stroke="#2a2a2a" stroke-width="0.80"/>
<circle cx="503.40" cy="50.60" r="1.00" fill="#111"/>
<text x="4.05" y="159.35" font-size="12.70" text-anchor="middle" font-weight="bold" fill="#000" transform="translate(4.05 159.35) scale(1.000 1) translate(-4.05 -159.35)">C</text>
<text transform="translate(32.20 221.40) rotate(-90)" x="0" y="0" font-size="9.25" text-anchor="middle" class="hv">% viability of untreated control</text>
<text transform="translate(42.80 221.80) rotate(-90)" x="0" y="0" font-size="9.25" text-anchor="middle" class="hv">(PI-staining)</text>
<line x1="64.30" y1="161.40" x2="64.30" y2="287.40" stroke="#000" stroke-width="0.90"/>
<line x1="62.30" y1="273.40" x2="64.30" y2="273.40" stroke="#000" stroke-width="0.90"/>
<text x="61.10" y="276.07" font-size="7.45" text-anchor="end" font-weight="normal" fill="#000" transform="translate(61.10 276.07) scale(0.940 1) translate(-61.10 -276.07)">40</text>
<line x1="62.30" y1="245.40" x2="64.30" y2="245.40" stroke="#000" stroke-width="0.90"/>
<text x="61.10" y="248.07" font-size="7.45" text-anchor="end" font-weight="normal" fill="#000" transform="translate(61.10 248.07) scale(0.940 1) translate(-61.10 -248.07)">60</text>
<line x1="62.30" y1="217.40" x2="64.30" y2="217.40" stroke="#000" stroke-width="0.90"/>
<text x="61.10" y="220.07" font-size="7.45" text-anchor="end" font-weight="normal" fill="#000" transform="translate(61.10 220.07) scale(0.940 1) translate(-61.10 -220.07)">80</text>
<line x1="62.30" y1="189.40" x2="64.30" y2="189.40" stroke="#000" stroke-width="0.90"/>
<text x="61.10" y="192.07" font-size="7.45" text-anchor="end" font-weight="normal" fill="#000" transform="translate(61.10 192.07) scale(0.940 1) translate(-61.10 -192.07)">100</text>
<line x1="62.30" y1="161.40" x2="64.30" y2="161.40" stroke="#000" stroke-width="0.90"/>
<text x="61.10" y="164.07" font-size="7.45" text-anchor="end" font-weight="normal" fill="#000" transform="translate(61.10 164.07) scale(0.940 1) translate(-61.10 -164.07)">120</text>
<rect x="65.40" y="189.40" width="10.30" height="98.00" fill="#000"/>
<line x1="70.55" y1="186.88" x2="70.55" y2="189.40" stroke="#444" stroke-width="0.70"/>
<line x1="69.25" y1="186.88" x2="71.85" y2="186.88" stroke="#444" stroke-width="0.70"/>
<rect x="79.15" y="217.12" width="10.30" height="70.28" fill="#000"/>
<line x1="84.30" y1="216.28" x2="84.30" y2="217.12" stroke="#444" stroke-width="0.70"/>
<line x1="83.00" y1="216.28" x2="85.60" y2="216.28" stroke="#444" stroke-width="0.70"/>
<rect x="92.90" y="217.96" width="10.30" height="69.44" fill="#000"/>
<line x1="98.05" y1="215.44" x2="98.05" y2="217.96" stroke="#444" stroke-width="0.70"/>
<line x1="96.75" y1="215.44" x2="99.35" y2="215.44" stroke="#444" stroke-width="0.70"/>
<rect x="106.65" y="207.18" width="10.30" height="80.22" fill="#000"/>
<line x1="111.80" y1="205.78" x2="111.80" y2="207.18" stroke="#444" stroke-width="0.70"/>
<line x1="110.50" y1="205.78" x2="113.10" y2="205.78" stroke="#444" stroke-width="0.70"/>
<rect x="120.40" y="254.08" width="10.30" height="33.32" fill="#000"/>
<line x1="125.55" y1="250.16" x2="125.55" y2="254.08" stroke="#444" stroke-width="0.70"/>
<line x1="124.25" y1="250.16" x2="126.85" y2="250.16" stroke="#444" stroke-width="0.70"/>
<rect x="134.15" y="246.24" width="10.30" height="41.16" fill="#000"/>
<line x1="139.30" y1="241.76" x2="139.30" y2="246.24" stroke="#444" stroke-width="0.70"/>
<line x1="138.00" y1="241.76" x2="140.60" y2="241.76" stroke="#444" stroke-width="0.70"/>
<text x="50.50" y="297.51" font-size="7.02" text-anchor="middle" font-weight="normal" fill="#000" transform="translate(50.50 297.51) scale(0.940 1) translate(-50.50 -297.51)">siRNA:</text>
<text x="65.29" y="297.16" font-size="6.60" font-weight="normal" textLength="8.82" lengthAdjust="spacingAndGlyphs">Ctrl</text>
<text x="76.69" y="297.16" font-size="6.60" font-weight="normal" textLength="14.92" lengthAdjust="spacingAndGlyphs">Atg7</text>
<text x="92.29" y="297.16" font-size="6.60" font-weight="normal" textLength="14.92" lengthAdjust="spacingAndGlyphs">Ulk1</text>
<text x="108.59" y="297.16" font-size="6.60" font-weight="normal" textLength="8.82" lengthAdjust="spacingAndGlyphs">Ctrl</text>
<text x="119.99" y="297.16" font-size="6.60" font-weight="normal" textLength="15.82" lengthAdjust="spacingAndGlyphs">Atg7</text>
<text x="136.39" y="297.16" font-size="6.60" font-weight="normal" textLength="14.12" lengthAdjust="spacingAndGlyphs">Ulk1</text>
<line x1="67.00" y1="302.50" x2="102.50" y2="302.50" stroke="#333" stroke-width="0.80"/>
<line x1="107.00" y1="302.50" x2="143.80" y2="302.50" stroke="#333" stroke-width="0.80"/>
<text x="87.00" y="313.28" font-size="9.15" text-anchor="middle" font-weight="normal" fill="#000" transform="translate(87.00 313.28) scale(0.940 1) translate(-87.00 -313.28)">Ctrl</text>
<text x="126.00" y="313.28" font-size="9.15" text-anchor="middle" font-weight="normal" fill="#000" transform="translate(126.00 313.28) scale(0.940 1) translate(-126.00 -313.28)">VPA</text>
<path d="M71.20 184.40 V181.70 H85.00 V184.40" fill="none" stroke="#2a2a2a" stroke-width="0.80"/>
<circle cx="74.60" cy="178.90" r="1.20" fill="#111"/>
<circle cx="78.10" cy="178.90" r="1.20" fill="#111"/>
<circle cx="81.60" cy="178.90" r="1.20" fill="#111"/>
<path d="M71.20 176.40 V173.70 H98.00 V176.40" fill="none" stroke="#2a2a2a" stroke-width="0.80"/>
<circle cx="84.60" cy="170.90" r="1.20" fill="#111"/>
<path d="M71.20 168.10 V165.40 H112.50 V168.10" fill="none" stroke="#2a2a2a" stroke-width="0.80"/>
<circle cx="88.35" cy="162.60" r="1.20" fill="#111"/>
<circle cx="91.85" cy="162.60" r="1.20" fill="#111"/>
<circle cx="95.35" cy="162.60" r="1.20" fill="#111"/>
<path d="M84.60 204.20 V201.50 H125.00 V204.20" fill="none" stroke="#2a2a2a" stroke-width="0.80"/>
<circle cx="101.30" cy="198.70" r="1.20" fill="#111"/>
<circle cx="104.80" cy="198.70" r="1.20" fill="#111"/>
<circle cx="108.30" cy="198.70" r="1.20" fill="#111"/>
<path d="M98.00 194.00 V191.30 H138.80 V194.00" fill="none" stroke="#2a2a2a" stroke-width="0.80"/>
<circle cx="116.65" cy="188.50" r="1.20" fill="#111"/>
<circle cx="120.15" cy="188.50" r="1.20" fill="#111"/>
<text x="222.95" y="159.50" font-size="12.70" text-anchor="middle" font-weight="bold" fill="#000" transform="translate(222.95 159.50) scale(1.000 1) translate(-222.95 -159.50)">D</text>
<text transform="translate(250.80 221.60) rotate(-90)" x="0" y="0" font-size="9.25" text-anchor="middle" class="hv">% viability of untreated control</text>
<text transform="translate(261.20 222.00) rotate(-90)" x="0" y="0" font-size="9.25" text-anchor="middle" class="hv">(PI-staining)</text>
<line x1="287.80" y1="161.40" x2="287.80" y2="287.40" stroke="#000" stroke-width="0.90"/>
<line x1="285.80" y1="273.40" x2="287.80" y2="273.40" stroke="#000" stroke-width="0.90"/>
<text x="284.60" y="276.07" font-size="7.45" text-anchor="end" font-weight="normal" fill="#000" transform="translate(284.60 276.07) scale(0.940 1) translate(-284.60 -276.07)">40</text>
<line x1="285.80" y1="245.40" x2="287.80" y2="245.40" stroke="#000" stroke-width="0.90"/>
<text x="284.60" y="248.07" font-size="7.45" text-anchor="end" font-weight="normal" fill="#000" transform="translate(284.60 248.07) scale(0.940 1) translate(-284.60 -248.07)">60</text>
<line x1="285.80" y1="217.40" x2="287.80" y2="217.40" stroke="#000" stroke-width="0.90"/>
<text x="284.60" y="220.07" font-size="7.45" text-anchor="end" font-weight="normal" fill="#000" transform="translate(284.60 220.07) scale(0.940 1) translate(-284.60 -220.07)">80</text>
<line x1="285.80" y1="189.40" x2="287.80" y2="189.40" stroke="#000" stroke-width="0.90"/>
<text x="284.60" y="192.07" font-size="7.45" text-anchor="end" font-weight="normal" fill="#000" transform="translate(284.60 192.07) scale(0.940 1) translate(-284.60 -192.07)">100</text>
<line x1="285.80" y1="161.40" x2="287.80" y2="161.40" stroke="#000" stroke-width="0.90"/>
<text x="284.60" y="164.07" font-size="7.45" text-anchor="end" font-weight="normal" fill="#000" transform="translate(284.60 164.07) scale(0.940 1) translate(-284.60 -164.07)">120</text>
<rect x="289.50" y="188.98" width="10.30" height="98.42" fill="#000"/>
<line x1="294.65" y1="187.30" x2="294.65" y2="188.98" stroke="#444" stroke-width="0.70"/>
<line x1="293.35" y1="187.30" x2="295.95" y2="187.30" stroke="#444" stroke-width="0.70"/>
<rect x="303.05" y="188.42" width="10.30" height="98.98" fill="#000"/>
<line x1="308.20" y1="187.72" x2="308.20" y2="188.42" stroke="#444" stroke-width="0.70"/>
<line x1="306.90" y1="187.72" x2="309.50" y2="187.72" stroke="#444" stroke-width="0.70"/>
<rect x="316.60" y="189.40" width="10.30" height="98.00" fill="#000"/>
<rect x="330.15" y="198.08" width="10.30" height="89.32" fill="#000"/>
<line x1="335.30" y1="197.24" x2="335.30" y2="198.08" stroke="#444" stroke-width="0.70"/>
<line x1="334.00" y1="197.24" x2="336.60" y2="197.24" stroke="#444" stroke-width="0.70"/>
<rect x="343.70" y="197.38" width="10.30" height="90.02" fill="#000"/>
<rect x="357.25" y="198.08" width="10.30" height="89.32" fill="#000"/>
<rect x="370.80" y="219.92" width="10.30" height="67.48" fill="#000"/>
<rect x="384.35" y="210.96" width="10.30" height="76.44" fill="#000"/>
<line x1="389.50" y1="210.12" x2="389.50" y2="210.96" stroke="#444" stroke-width="0.70"/>
<line x1="388.20" y1="210.12" x2="390.80" y2="210.12" stroke="#444" stroke-width="0.70"/>
<rect x="397.90" y="209.28" width="10.30" height="78.12" fill="#000"/>
<rect x="411.45" y="225.94" width="10.30" height="61.46" fill="#000"/>
<line x1="416.60" y1="223.56" x2="416.60" y2="225.94" stroke="#444" stroke-width="0.70"/>
<line x1="415.30" y1="223.56" x2="417.90" y2="223.56" stroke="#444" stroke-width="0.70"/>
<rect x="425.00" y="211.66" width="10.30" height="75.74" fill="#000"/>
<rect x="438.55" y="204.52" width="10.30" height="82.88" fill="#000"/>
<text x="270.80" y="298.27" font-size="7.45" text-anchor="middle" font-weight="normal" fill="#000" transform="translate(270.80 298.27) scale(0.940 1) translate(-270.80 -298.27)">NAC (mM)</text>
<text x="294.65" y="297.58" font-size="7.77" text-anchor="middle" font-weight="normal" fill="#000" transform="translate(294.65 297.58) scale(0.940 1) translate(-294.65 -297.58)">-</text>
<text x="308.20" y="297.58" font-size="7.77" text-anchor="middle" font-weight="normal" fill="#000" transform="translate(308.20 297.58) scale(0.940 1) translate(-308.20 -297.58)">5</text>
<text x="321.75" y="297.58" font-size="7.77" text-anchor="middle" font-weight="normal" fill="#000" transform="translate(321.75 297.58) scale(0.940 1) translate(-321.75 -297.58)">10</text>
<text x="335.30" y="297.58" font-size="7.77" text-anchor="middle" font-weight="normal" fill="#000" transform="translate(335.30 297.58) scale(0.940 1) translate(-335.30 -297.58)">-</text>
<text x="348.85" y="297.58" font-size="7.77" text-anchor="middle" font-weight="normal" fill="#000" transform="translate(348.85 297.58) scale(0.940 1) translate(-348.85 -297.58)">5</text>
<text x="362.40" y="297.58" font-size="7.77" text-anchor="middle" font-weight="normal" fill="#000" transform="translate(362.40 297.58) scale(0.940 1) translate(-362.40 -297.58)">10</text>
<text x="375.95" y="297.58" font-size="7.77" text-anchor="middle" font-weight="normal" fill="#000" transform="translate(375.95 297.58) scale(0.940 1) translate(-375.95 -297.58)">-</text>
<text x="389.50" y="297.58" font-size="7.77" text-anchor="middle" font-weight="normal" fill="#000" transform="translate(389.50 297.58) scale(0.940 1) translate(-389.50 -297.58)">5</text>
<text x="403.05" y="297.58" font-size="7.77" text-anchor="middle" font-weight="normal" fill="#000" transform="translate(403.05 297.58) scale(0.940 1) translate(-403.05 -297.58)">10</text>
<text x="416.60" y="297.58" font-size="7.77" text-anchor="middle" font-weight="normal" fill="#000" transform="translate(416.60 297.58) scale(0.940 1) translate(-416.60 -297.58)">-</text>
<text x="430.15" y="297.58" font-size="7.77" text-anchor="middle" font-weight="normal" fill="#000" transform="translate(430.15 297.58) scale(0.940 1) translate(-430.15 -297.58)">5</text>
<text x="443.70" y="297.58" font-size="7.77" text-anchor="middle" font-weight="normal" fill="#000" transform="translate(443.70 297.58) scale(0.940 1) translate(-443.70 -297.58)">10</text>
<line x1="290.00" y1="304.10" x2="327.00" y2="304.10" stroke="#555" stroke-width="0.90"/>
<line x1="330.40" y1="304.10" x2="366.00" y2="304.10" stroke="#555" stroke-width="0.90"/>
<line x1="371.20" y1="304.10" x2="407.00" y2="304.10" stroke="#555" stroke-width="0.90"/>
<line x1="411.50" y1="304.10" x2="447.30" y2="304.10" stroke="#555" stroke-width="0.90"/>
<text x="310.60" y="314.49" font-size="9.47" text-anchor="middle" font-weight="normal" fill="#000" transform="translate(310.60 314.49) scale(0.940 1) translate(-310.60 -314.49)">Ctrl</text>
<text x="350.50" y="314.79" font-size="9.47" text-anchor="middle" font-weight="normal" fill="#000" transform="translate(350.50 314.79) scale(0.940 1) translate(-350.50 -314.79)">VPA</text>
<text x="390.30" y="314.79" font-size="9.47" text-anchor="middle" font-weight="normal" fill="#000" transform="translate(390.30 314.79) scale(0.940 1) translate(-390.30 -314.79)">VPA +</text>
<text x="390.20" y="325.29" font-size="9.47" text-anchor="middle" font-weight="normal" fill="#000" transform="translate(390.20 325.29) scale(0.940 1) translate(-390.20 -325.29)">Baf</text>
<text x="432.60" y="314.79" font-size="9.47" text-anchor="middle" font-weight="normal" fill="#000" transform="translate(432.60 314.79) scale(0.940 1) translate(-432.60 -314.79)">VPA +</text>
<text x="433.20" y="325.29" font-size="9.47" text-anchor="middle" font-weight="normal" fill="#000" transform="translate(433.20 325.29) scale(0.940 1) translate(-433.20 -325.29)">CQ</text>
<path d="M294.60 184.00 V181.30 H335.40 V184.00" fill="none" stroke="#2a2a2a" stroke-width="0.80"/>
<circle cx="315.00" cy="178.50" r="1.20" fill="#111"/>
<path d="M335.40 178.10 V175.40 H375.80 V178.10" fill="none" stroke="#2a2a2a" stroke-width="0.80"/>
<circle cx="353.85" cy="172.60" r="1.20" fill="#111"/>
<circle cx="357.35" cy="172.60" r="1.20" fill="#111"/>
<path d="M335.40 169.40 V166.70 H416.70 V169.40" fill="none" stroke="#2a2a2a" stroke-width="0.80"/>
<circle cx="376.05" cy="163.90" r="1.20" fill="#111"/>
<path d="M376.30 206.50 V203.80 H389.20 V206.50" fill="none" stroke="#2a2a2a" stroke-width="0.80"/>
<circle cx="381.00" cy="201.00" r="1.20" fill="#111"/>
<circle cx="384.50" cy="201.00" r="1.20" fill="#111"/>
<path d="M376.30 197.30 V194.60 H403.30 V197.30" fill="none" stroke="#2a2a2a" stroke-width="0.80"/>
<circle cx="388.05" cy="191.80" r="1.20" fill="#111"/>
<circle cx="391.55" cy="191.80" r="1.20" fill="#111"/>
<path d="M416.70 206.50 V203.80 H429.60 V206.50" fill="none" stroke="#2a2a2a" stroke-width="0.80"/>
<circle cx="423.15" cy="201.00" r="1.20" fill="#111"/>
<path d="M416.70 197.30 V194.60 H443.70 V197.30" fill="none" stroke="#2a2a2a" stroke-width="0.80"/>
<circle cx="430.20" cy="191.80" r="1.20" fill="#111"/>
<text x="3.45" y="343.70" font-size="12.70" text-anchor="middle" font-weight="bold" fill="#000" transform="translate(3.45 343.70) scale(1.000 1) translate(-3.45 -343.70)">E</text>
<text x="98.00" y="346.43" font-size="9.57" text-anchor="middle" font-weight="normal" fill="#000" transform="translate(98.00 346.43) scale(0.940 1) translate(-98.00 -346.43)">Ctrl</text>
<text x="177.00" y="346.23" font-size="9.57" text-anchor="middle" font-weight="normal" fill="#000" transform="translate(177.00 346.23) scale(0.940 1) translate(-177.00 -346.23)">Baf</text>
<text x="261.70" y="346.23" font-size="9.57" text-anchor="middle" font-weight="normal" fill="#000" transform="translate(261.70 346.23) scale(0.940 1) translate(-261.70 -346.23)">CQ</text>
<line x1="58.80" y1="347.60" x2="135.70" y2="347.60" stroke="#666" stroke-width="0.90"/>
<line x1="140.00" y1="347.60" x2="217.50" y2="347.60" stroke="#666" stroke-width="0.90"/>
<line x1="221.00" y1="347.60" x2="300.80" y2="347.60" stroke="#666" stroke-width="0.90"/>
<text x="14.40" y="362.28" font-size="8.60" font-weight="normal" textLength="35.91" lengthAdjust="spacingAndGlyphs">VPA (mM)</text>
<text x="14.40" y="375.78" font-size="8.60" font-weight="normal" textLength="34.01" lengthAdjust="spacingAndGlyphs">Ubiquitin</text>
<text x="17.76" y="446.48" font-size="9.30" font-weight="normal" textLength="31.57" lengthAdjust="spacingAndGlyphs">GAPDH</text>
<text x="66.50" y="362.34" font-size="7.66" text-anchor="middle" font-weight="normal" fill="#000" transform="translate(66.50 362.34) scale(0.940 1) translate(-66.50 -362.34)">-</text>
<text x="86.80" y="362.34" font-size="7.66" text-anchor="middle" font-weight="normal" fill="#000" transform="translate(86.80 362.34) scale(0.940 1) translate(-86.80 -362.34)">0.38</text>
<text x="107.30" y="362.34" font-size="7.66" text-anchor="middle" font-weight="normal" fill="#000" transform="translate(107.30 362.34) scale(0.940 1) translate(-107.30 -362.34)">0.75</text>
<text x="127.80" y="362.34" font-size="7.66" text-anchor="middle" font-weight="normal" fill="#000" transform="translate(127.80 362.34) scale(0.940 1) translate(-127.80 -362.34)">1.5</text>
<text x="148.00" y="362.34" font-size="7.66" text-anchor="middle" font-weight="normal" fill="#000" transform="translate(148.00 362.34) scale(0.940 1) translate(-148.00 -362.34)">-</text>
<text x="167.60" y="362.34" font-size="7.66" text-anchor="middle" font-weight="normal" fill="#000" transform="translate(167.60 362.34) scale(0.940 1) translate(-167.60 -362.34)">0.38</text>
<text x="188.40" y="362.34" font-size="7.66" text-anchor="middle" font-weight="normal" fill="#000" transform="translate(188.40 362.34) scale(0.940 1) translate(-188.40 -362.34)">0.75</text>
<text x="208.60" y="362.34" font-size="7.66" text-anchor="middle" font-weight="normal" fill="#000" transform="translate(208.60 362.34) scale(0.940 1) translate(-208.60 -362.34)">1.5</text>
<text x="229.50" y="362.34" font-size="7.66" text-anchor="middle" font-weight="normal" fill="#000" transform="translate(229.50 362.34) scale(0.940 1) translate(-229.50 -362.34)">-</text>
<text x="250.00" y="362.34" font-size="7.66" text-anchor="middle" font-weight="normal" fill="#000" transform="translate(250.00 362.34) scale(0.940 1) translate(-250.00 -362.34)">0.38</text>
<text x="270.80" y="362.34" font-size="7.66" text-anchor="middle" font-weight="normal" fill="#000" transform="translate(270.80 362.34) scale(0.940 1) translate(-270.80 -362.34)">0.75</text>
<text x="291.20" y="362.34" font-size="7.66" text-anchor="middle" font-weight="normal" fill="#000" transform="translate(291.20 362.34) scale(0.940 1) translate(-291.20 -362.34)">1.5</text>
<text x="311.00" y="364.66" font-size="6.60" text-anchor="middle" font-weight="normal" fill="#000" transform="translate(311.00 364.66) scale(0.940 1) translate(-311.00 -364.66)">kDa</text>
<text x="308.20" y="374.06" font-size="6.60" text-anchor="start" font-weight="normal" fill="#000" transform="translate(308.20 374.06) scale(0.940 1) translate(-308.20 -374.06)">250</text>
<line x1="303.50" y1="371.70" x2="306.50" y2="371.70" stroke="#444" stroke-width="0.60"/>
<text x="308.20" y="402.56" font-size="6.60" text-anchor="start" font-weight="normal" fill="#000" transform="translate(308.20 402.56) scale(0.940 1) translate(-308.20 -402.56)">150</text>
<line x1="303.50" y1="400.20" x2="306.50" y2="400.20" stroke="#444" stroke-width="0.60"/>
<text x="308.20" y="429.86" font-size="6.60" text-anchor="start" font-weight="normal" fill="#000" transform="translate(308.20 429.86) scale(0.940 1) translate(-308.20 -429.86)">100</text>
<line x1="303.50" y1="427.50" x2="306.50" y2="427.50" stroke="#444" stroke-width="0.60"/>
<text x="308.20" y="442.76" font-size="6.60" text-anchor="start" font-weight="normal" fill="#000" transform="translate(308.20 442.76) scale(0.940 1) translate(-308.20 -442.76)">37</text>
<line x1="303.50" y1="440.40" x2="306.50" y2="440.40" stroke="#444" stroke-width="0.60"/>
<rect x="54.50" y="365.60" width="248.10" height="66.60" fill="#d8d8d8"/>
<g clip-path="url(#blotclip)"><g filter="url(#bl)">
<rect x="51.50" y="362.60" width="254.10" height="72.60" fill="#dadada"/>
<path d="M55.80 362.60 L73.90 362.60 L73.90 435.20 L55.80 435.20 Z" fill="url(#lg0)"/>
<path d="M78.70 362.60 L95.20 362.60 L95.20 435.20 L78.70 435.20 Z" fill="url(#lg1)"/>
<path d="M100.00 362.60 L114.60 362.60 L114.60 435.20 L100.00 435.20 Z" fill="url(#lg2)"/>
<path d="M119.40 362.60 L135.10 362.60 L135.10 435.20 L119.40 435.20 Z" fill="url(#lg3)"/>
<path d="M139.90 362.60 L155.40 362.60 L155.40 435.20 L139.90 435.20 Z" fill="url(#lg4)"/>
<path d="M160.20 362.60 L175.90 362.60 L175.90 435.20 L160.20 435.20 Z" fill="url(#lg5)"/>
<path d="M180.70 362.60 L196.20 362.60 L196.20 435.20 L180.70 435.20 Z" fill="url(#lg6)"/>
<path d="M201.00 362.60 L216.60 362.60 L218.10 435.20 L201.00 435.20 Z" fill="url(#lg7)"/>
<path d="M221.40 362.60 L237.40 362.60 L238.80 435.20 L222.90 435.20 Z" fill="url(#lg8)"/>
<path d="M242.20 362.60 L257.20 362.60 L260.30 435.20 L243.60 435.20 Z" fill="url(#lg9)"/>
<path d="M262.00 362.60 L277.30 362.60 L280.80 435.20 L265.10 435.20 Z" fill="url(#lg10)"/>
<path d="M282.10 362.60 L297.30 362.60 L302.00 435.20 L285.60 435.20 Z" fill="url(#lg11)"/>
</g></g>
<rect x="54.50" y="365.60" width="248.10" height="66.60" fill="none" stroke="#555" stroke-width="0.9"/>
<rect x="54.50" y="435.20" width="248.10" height="15.60" fill="#ededed"/>
<rect x="54.50" y="435.20" width="248.10" height="15.60" fill="none" stroke="#444" stroke-width="0.9"/>
<rect x="56.30" y="441.50" width="17.50" height="3.00" rx="1.2" fill="#222" opacity="0.85"/>
<rect x="76.30" y="441.50" width="17.50" height="3.00" rx="1.2" fill="#222" opacity="0.85"/>
<rect x="96.30" y="441.50" width="17.50" height="3.00" rx="1.2" fill="#222" opacity="0.85"/>
<rect x="116.30" y="441.50" width="17.50" height="3.00" rx="1.2" fill="#222" opacity="0.61"/>
<rect x="137.50" y="441.50" width="17.50" height="3.00" rx="1.2" fill="#222" opacity="0.85"/>
<rect x="157.50" y="441.50" width="17.50" height="3.00" rx="1.2" fill="#222" opacity="0.85"/>
<rect x="177.80" y="441.50" width="19.50" height="3.00" rx="1.2" fill="#222" opacity="0.85"/>
<rect x="199.90" y="441.50" width="18.10" height="3.00" rx="1.2" fill="#222" opacity="0.78"/>
<rect x="220.60" y="441.50" width="19.50" height="3.00" rx="1.2" fill="#222" opacity="0.85"/>
<rect x="242.70" y="441.50" width="18.20" height="3.00" rx="1.2" fill="#222" opacity="0.85"/>
<rect x="263.50" y="441.50" width="18.20" height="3.00" rx="1.2" fill="#222" opacity="0.85"/>
<rect x="284.30" y="441.50" width="17.50" height="3.00" rx="1.2" fill="#222" opacity="0.78"/>
<text transform="translate(353.50 395.70) rotate(-90)" x="0" y="0" font-size="9.25" text-anchor="middle" class="hv">Ubiquitin/GAPDH</text>
<text transform="translate(364.20 396.50) rotate(-90)" x="0" y="0" font-size="9.25" text-anchor="middle" class="hv">(% of untreated control)</text>
<line x1="382.70" y1="344.68" x2="382.70" y2="447.30" stroke="#000" stroke-width="0.90"/>
<line x1="380.70" y1="447.30" x2="382.70" y2="447.30" stroke="#000" stroke-width="0.90"/>
<text x="379.50" y="449.59" font-size="6.38" text-anchor="end" font-weight="normal" fill="#000" transform="translate(379.50 449.59) scale(0.940 1) translate(-379.50 -449.59)">0</text>
<line x1="380.70" y1="426.78" x2="382.70" y2="426.78" stroke="#000" stroke-width="0.90"/>
<text x="379.50" y="429.06" font-size="6.38" text-anchor="end" font-weight="normal" fill="#000" transform="translate(379.50 429.06) scale(0.940 1) translate(-379.50 -429.06)">50</text>
<line x1="380.70" y1="406.25" x2="382.70" y2="406.25" stroke="#000" stroke-width="0.90"/>
<text x="379.50" y="408.54" font-size="6.38" text-anchor="end" font-weight="normal" fill="#000" transform="translate(379.50 408.54) scale(0.940 1) translate(-379.50 -408.54)">100</text>
<line x1="380.70" y1="385.73" x2="382.70" y2="385.73" stroke="#000" stroke-width="0.90"/>
<text x="379.50" y="388.01" font-size="6.38" text-anchor="end" font-weight="normal" fill="#000" transform="translate(379.50 388.01) scale(0.940 1) translate(-379.50 -388.01)">150</text>
<line x1="380.70" y1="365.20" x2="382.70" y2="365.20" stroke="#000" stroke-width="0.90"/>
<text x="379.50" y="367.49" font-size="6.38" text-anchor="end" font-weight="normal" fill="#000" transform="translate(379.50 367.49) scale(0.940 1) translate(-379.50 -367.49)">200</text>
<line x1="380.70" y1="344.68" x2="382.70" y2="344.68" stroke="#000" stroke-width="0.90"/>
<text x="379.50" y="346.96" font-size="6.38" text-anchor="end" font-weight="normal" fill="#000" transform="translate(379.50 346.96) scale(0.940 1) translate(-379.50 -346.96)">250</text>
<rect x="384.20" y="406.25" width="8.50" height="41.05" fill="#000"/>
<line x1="388.45" y1="405.63" x2="388.45" y2="406.25" stroke="#444" stroke-width="0.70"/>
<line x1="387.15" y1="405.63" x2="389.75" y2="405.63" stroke="#444" stroke-width="0.70"/>
<rect x="395.25" y="396.81" width="8.50" height="50.49" fill="#000"/>
<line x1="399.50" y1="394.96" x2="399.50" y2="396.81" stroke="#444" stroke-width="0.70"/>
<line x1="398.20" y1="394.96" x2="400.80" y2="394.96" stroke="#444" stroke-width="0.70"/>
<rect x="406.30" y="401.73" width="8.50" height="45.57" fill="#000"/>
<line x1="410.55" y1="400.91" x2="410.55" y2="401.73" stroke="#444" stroke-width="0.70"/>
<line x1="409.25" y1="400.91" x2="411.85" y2="400.91" stroke="#444" stroke-width="0.70"/>
<rect x="417.35" y="386.55" width="8.50" height="60.75" fill="#000"/>
<line x1="421.60" y1="384.49" x2="421.60" y2="386.55" stroke="#444" stroke-width="0.70"/>
<line x1="420.30" y1="384.49" x2="422.90" y2="384.49" stroke="#444" stroke-width="0.70"/>
<rect x="428.40" y="363.97" width="8.50" height="83.33" fill="#000"/>
<line x1="432.65" y1="360.27" x2="432.65" y2="363.97" stroke="#444" stroke-width="0.70"/>
<line x1="431.35" y1="360.27" x2="433.95" y2="360.27" stroke="#444" stroke-width="0.70"/>
<rect x="439.45" y="374.23" width="8.50" height="73.07" fill="#000"/>
<line x1="443.70" y1="371.36" x2="443.70" y2="374.23" stroke="#444" stroke-width="0.70"/>
<line x1="442.40" y1="371.36" x2="445.00" y2="371.36" stroke="#444" stroke-width="0.70"/>
<text x="388.45" y="455.72" font-size="6.20" text-anchor="middle" font-weight="normal" fill="#000" transform="translate(388.45 455.72) scale(1.000 1) translate(-388.45 -455.72)">Ctrl</text>
<text x="399.50" y="455.72" font-size="6.20" text-anchor="middle" font-weight="normal" fill="#000" transform="translate(399.50 455.72) scale(1.000 1) translate(-399.50 -455.72)">Baf</text>
<text x="410.55" y="455.72" font-size="6.20" text-anchor="middle" font-weight="normal" fill="#000" transform="translate(410.55 455.72) scale(1.000 1) translate(-410.55 -455.72)">CQ</text>
<text x="421.60" y="455.72" font-size="6.20" text-anchor="middle" font-weight="normal" fill="#000" transform="translate(421.60 455.72) scale(1.000 1) translate(-421.60 -455.72)">Ctrl</text>
<text x="432.65" y="455.72" font-size="6.20" text-anchor="middle" font-weight="normal" fill="#000" transform="translate(432.65 455.72) scale(1.000 1) translate(-432.65 -455.72)">Baf</text>
<text x="443.70" y="455.72" font-size="6.20" text-anchor="middle" font-weight="normal" fill="#000" transform="translate(443.70 455.72) scale(1.000 1) translate(-443.70 -455.72)">CQ</text>
<line x1="383.80" y1="458.60" x2="413.80" y2="458.60" stroke="#444" stroke-width="0.80"/>
<line x1="417.30" y1="458.60" x2="448.50" y2="458.60" stroke="#444" stroke-width="0.80"/>
<text x="399.50" y="466.59" font-size="7.80" text-anchor="middle" font-weight="normal" fill="#000" transform="translate(399.50 466.59) scale(1.000 1) translate(-399.50 -466.59)">Ctrl</text>
<text x="434.00" y="466.59" font-size="7.80" text-anchor="middle" font-weight="normal" fill="#000" transform="translate(434.00 466.59) scale(1.000 1) translate(-434.00 -466.59)">VPA</text>
<path d="M388.50 382.50 V380.20 H421.50 V382.50" fill="none" stroke="#2a2a2a" stroke-width="0.80"/>
<circle cx="401.90" cy="377.50" r="1.00" fill="#111"/>
<circle cx="405.00" cy="377.50" r="1.00" fill="#111"/>
<circle cx="408.10" cy="377.50" r="1.00" fill="#111"/>
<path d="M421.50 356.50 V354.20 H432.70 V356.50" fill="none" stroke="#2a2a2a" stroke-width="0.80"/>
<circle cx="424.00" cy="351.50" r="1.00" fill="#111"/>
<circle cx="427.10" cy="351.50" r="1.00" fill="#111"/>
<circle cx="430.20" cy="351.50" r="1.00" fill="#111"/>
<path d="M421.50 348.50 V346.20 H444.60 V348.50" fill="none" stroke="#2a2a2a" stroke-width="0.80"/>
<circle cx="433.05" cy="343.50" r="1.00" fill="#111"/>
</svg>
</body></html>
